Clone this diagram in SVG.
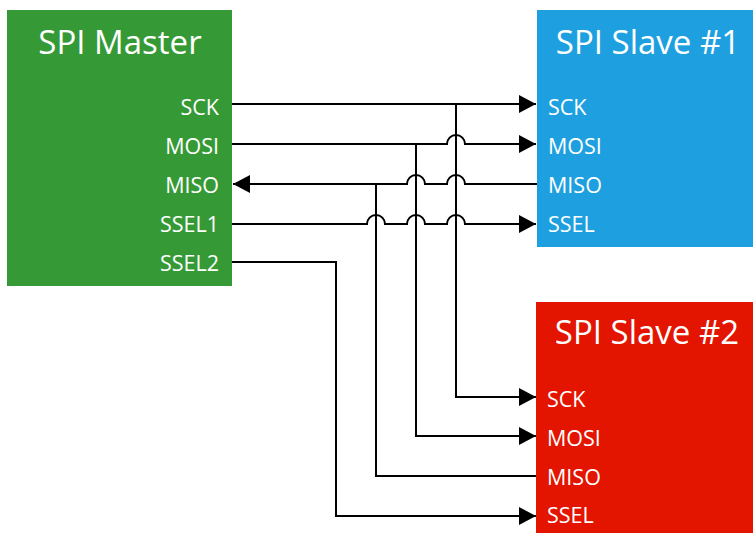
<svg xmlns="http://www.w3.org/2000/svg" width="753" height="533" viewBox="0 0 753 533">
<defs>
<style>
.title{font-family:"Open Sans","Noto Sans",sans-serif;font-size:33px;fill:#fff}
.port{font-family:"Open Sans","Noto Sans",sans-serif;font-size:21.5px;fill:#fff}
.w{fill:none;stroke:#000;stroke-width:2}
</style>
<marker id="arr" markerWidth="18" markerHeight="18" viewBox="0 0 18 18" refX="17" refY="9" orient="auto" markerUnits="userSpaceOnUse">
<path d="M0,0 L17,9 L0,18 Z" fill="#000"/>
</marker>
</defs>
<rect width="753" height="533" fill="#fff"/>
<g id="master">
<rect x="7" y="10" width="225" height="276" fill="#359a35"/>
<text class="title" x="120" y="54" text-anchor="middle">SPI Master</text>
<text class="port" x="219" y="115" text-anchor="end">SCK</text>
<text class="port" x="219" y="154" text-anchor="end">MOSI</text>
<text class="port" x="219" y="193" text-anchor="end">MISO</text>
<text class="port" x="219" y="232" text-anchor="end">SSEL1</text>
<text class="port" x="219" y="271" text-anchor="end">SSEL2</text>
</g>
<g id="slave1">
<rect x="537" y="10" width="216" height="237" fill="#1ea0e0"/>
<text class="title" x="648" y="54" text-anchor="middle">SPI Slave #1</text>
<text class="port" x="548" y="115">SCK</text>
<text class="port" x="548" y="154">MOSI</text>
<text class="port" x="548" y="193">MISO</text>
<text class="port" x="548" y="232">SSEL</text>
</g>
<g id="slave2">
<rect x="536" y="302" width="217" height="231" fill="#e31400"/>
<text class="title" x="647" y="344" text-anchor="middle">SPI Slave #2</text>
<text class="port" x="547" y="407">SCK</text>
<text class="port" x="547" y="446">MOSI</text>
<text class="port" x="547" y="485">MISO</text>
<text class="port" x="547" y="523">SSEL</text>
</g>
<g id="connectors">
<path class="w" d="M232,104 L536,104" marker-end="url(#arr)"/>
<path class="w" d="M456,104 L456,397 L536,397" marker-end="url(#arr)"/>
<path class="w" d="M232,144 L447,144 A9,9 0 0 1 465,144 L536,144" marker-end="url(#arr)"/>
<path class="w" d="M416,144 L416,436 L536,436" marker-end="url(#arr)"/>
<path class="w" d="M537,184 L465,184 A9,9 0 0 0 447,184 L425,184 A9,9 0 0 0 407,184 L233,184" marker-end="url(#arr)"/>
<path class="w" d="M536,476 L376,476 L376,184"/>
<path class="w" d="M232,224 L367,224 A9,9 0 0 1 385,224 L407,224 A9,9 0 0 1 425,224 L447,224 A9,9 0 0 1 465,224 L536,224" marker-end="url(#arr)"/>
<path class="w" d="M232,262 L336,262 L336,516 L536,516" marker-end="url(#arr)"/>
</g>
</svg>
